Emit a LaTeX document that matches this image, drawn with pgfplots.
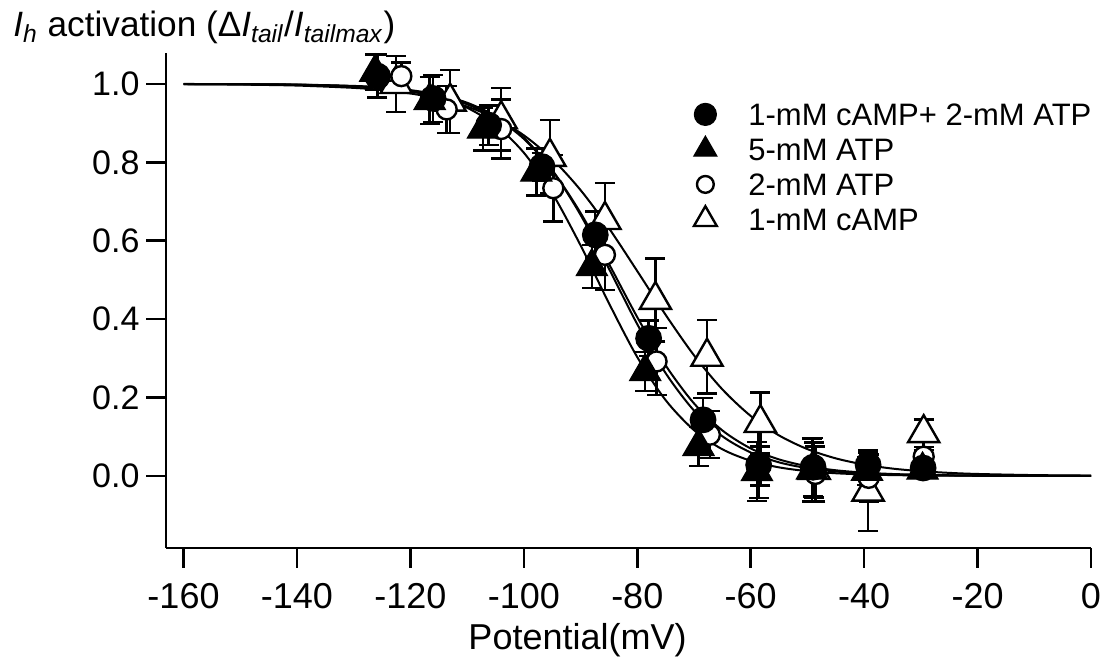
\documentclass[border=0pt]{standalone}
\usepackage{pgfplots}
\pgfplotsset{compat=1.18}
\usepackage{pgfplotstable}
\usepackage{fontspec}
\setmainfont{Liberation Sans}

% measured points: x (mV), mean activation, error
\pgfplotstableread{
x y e
-125.8 1.020 0.055
-116.0 0.963 0.060
-106.2 0.895 0.050
-96.8 0.789 0.035
-87.4 0.615 0.060
-78.0 0.351 0.045
-68.4 0.143 0.055
-58.6 0.028 0.085
-49.0 0.022 0.075
-39.3 0.028 0.037
-29.6 0.020 0.025
}\cAMPATP
\pgfplotstableread{
x y e
-126.2 1.030 0.045
-116.6 0.958 0.060
-107.2 0.885 0.055
-97.8 0.775 0.060
-88.0 0.534 0.055
-78.6 0.266 0.050
-69.2 0.075 0.050
-58.9 0.011 0.075
-49.2 0.015 0.080
-39.5 0.012 0.035
-29.7 0.015 0.020
}\ATPfive
\pgfplotstableread{
x y e
-121.6 1.020 0.035
-113.6 0.935 0.060
-104.0 0.885 0.075
-94.8 0.734 0.085
-85.7 0.564 0.090
-76.6 0.292 0.085
-67.2 0.105 0.060
-58.3 0.025 0.050
-48.6 0.005 0.070
-39.2 -0.005 0.060
-29.5 0.049 0.017
}\ATPtwo
\pgfplotstableread{
x y e
-122.5 1.000 0.072
-113.0 0.955 0.080
-104.0 0.910 0.080
-95.4 0.814 0.094
-85.7 0.653 0.094
-76.8 0.449 0.106
-67.7 0.304 0.094
-58.3 0.135 0.078
-48.8 0.015 0.070
-39.3 -0.040 0.100
-29.5 0.109 0.035
}\cAMPone

% Boltzmann fits, sampled every 5 mV
\pgfplotstableread{
x fc ft oc ot
-160 1.0000 0.9998 0.9998 0.9993
-150 0.9993 0.9994 0.9995 0.9983
-140 0.9980 0.9982 0.9984 0.9959
-130 0.9940 0.9941 0.9950 0.9900
-125 0.9896 0.9892 0.9911 0.9844
-120 0.9820 0.9807 0.9843 0.9757
-115 0.9700 0.9655 0.9724 0.9624
-110 0.9480 0.9392 0.9521 0.9423
-105 0.9140 0.8950 0.9180 0.9123
-100 0.8600 0.8246 0.8628 0.8690
-95 0.7800 0.7215 0.7797 0.8087
-90 0.6710 0.5883 0.6660 0.7293
-85 0.5410 0.4407 0.5288 0.6321
-80 0.4050 0.3030 0.3870 0.5225
-75 0.2820 0.1933 0.2622 0.4109
-70 0.1850 0.1167 0.1667 0.3077
-65 0.1160 0.0679 0.1012 0.2208
-60 0.0700 0.0386 0.0596 0.1529
-55 0.0420 0.0217 0.0345 0.1032
-50 0.0246 0.0121 0.0197 0.0683
-45 0.0143 0.0067 0.0112 0.0447
-40 0.0083 0.0037 0.0063 0.0289
-35 0.0048 0.0020 0.0036 0.0186
-30 0.0028 0.0011 0.0020 0.0120
-25 0.0016 0.0006 0.0011 0.0077
-20 0.0009 0.0003 0.0006 0.0049
-10 0.0003 0.0001 0.0002 0.0020
0 0.0001 0.0000 0.0001 0.0008
}\fits

\begin{document}
\begin{tikzpicture}
\useasboundingbox (-83pt,-57pt) rectangle (470.5pt,274pt);
\begin{axis}[
  at={(0,0)}, anchor=south west,
  scale only axis, width=462.5pt, height=247.5pt,
  xmin=-163.09, xmax=0, ymin=-0.184, ymax=1.079,
  axis x line=bottom, axis y line=left,
  axis line style={line width=1.3pt, -},
  tick align=outside, major tick length=9.75pt,
  tick style={line width=1.3pt, black},
  xtick={-160,-140,-120,-100,-80,-60,-40,-20,0},
  xticklabels={-160,-140,-120,-100,-80,-60,-40,-20,0},
  ytick={0,0.2,0.4,0.6,0.8,1.0},
  yticklabels={0.0,0.2,0.4,0.6,0.8,1.0},
  x tick label style={font=\fontsize{18}{18}\selectfont, yshift=-4.5pt},
  y tick label style={font=\fontsize{17}{17}\selectfont},
  xlabel={Potential(mV)},
  xlabel style={font=\fontsize{18}{18}\selectfont, at={(axis description cs:0.4449,0)}, anchor=base, yshift=-51pt},
  clip=false,
  legend style={draw=none, fill=none, inner sep=0pt, at={(0.5697,0.9034)}, anchor=north west,
    row sep=4.3pt, column sep=15.5pt, font=\fontsize{15.5}{15.5}\selectfont,
    nodes={inner sep=0pt, text height=11pt, text depth=0pt}},
  legend cell align=left,
  reverse legend,
  legend image code/.code={\path[draw=none, fill=none] (-6pt,-6.6pt) rectangle (6pt,6.6pt); \draw[#1] plot coordinates {(0pt,0pt)};},
  error bars/y dir=both, error bars/y explicit,
  error bars/error bar style={line width=1.2pt, black},
  error bars/error mark options={rotate=90, mark size=5pt, line width=1.2pt, black},
]
% fitted curves
\addplot[black, line width=1pt, smooth, forget plot] table[x=x, y=ot] {\fits};
\addplot[black, line width=1pt, smooth, forget plot] table[x=x, y=oc] {\fits};
\addplot[black, line width=1pt, smooth, forget plot] table[x=x, y=fc] {\fits};
\addplot[black, line width=1pt, smooth, forget plot] table[x=x, y=ft] {\fits};
% data with error bars
\addplot[only marks, mark=triangle*, mark size=9pt, line width=1.2pt, draw=black, fill=white,
  legend image post style={mark size=6.6pt}]
  table[x=x, y=y, y error=e] {\cAMPone};
\addlegendentry{1-mM cAMP}
\addplot[only marks, mark=*, mark size=5pt, line width=1.2pt, draw=black, fill=white,
  legend image post style={mark size=4.2pt}]
  table[x=x, y=y, y error=e] {\ATPtwo};
\addlegendentry{2-mM ATP}
\addplot[only marks, mark=triangle*, mark size=9pt, line width=0.6pt, draw=black, fill=black,
  legend image post style={mark size=6.6pt}]
  table[x=x, y=y, y error=e] {\ATPfive};
\addlegendentry{5-mM ATP}
\addplot[only marks, mark=*, mark size=6.4pt, line width=0.6pt, draw=black, fill=black,
  legend image post style={mark size=5.5pt}]
  table[x=x, y=y, y error=e] {\cAMPATP};
\addlegendentry{1-mM cAMP+ 2-mM ATP}
\end{axis}
\node[anchor=base west, inner sep=0pt, font=\fontsize{17.6}{17.6}\selectfont] at (-76.5pt,255.7pt)
  {\textit{I}\textsubscript{\textit{h}} activation (Δ\textit{I}\textsubscript{\textit{tail}}/\textit{I}\textsubscript{\textit{tailmax}})};
\end{tikzpicture}
\end{document}
